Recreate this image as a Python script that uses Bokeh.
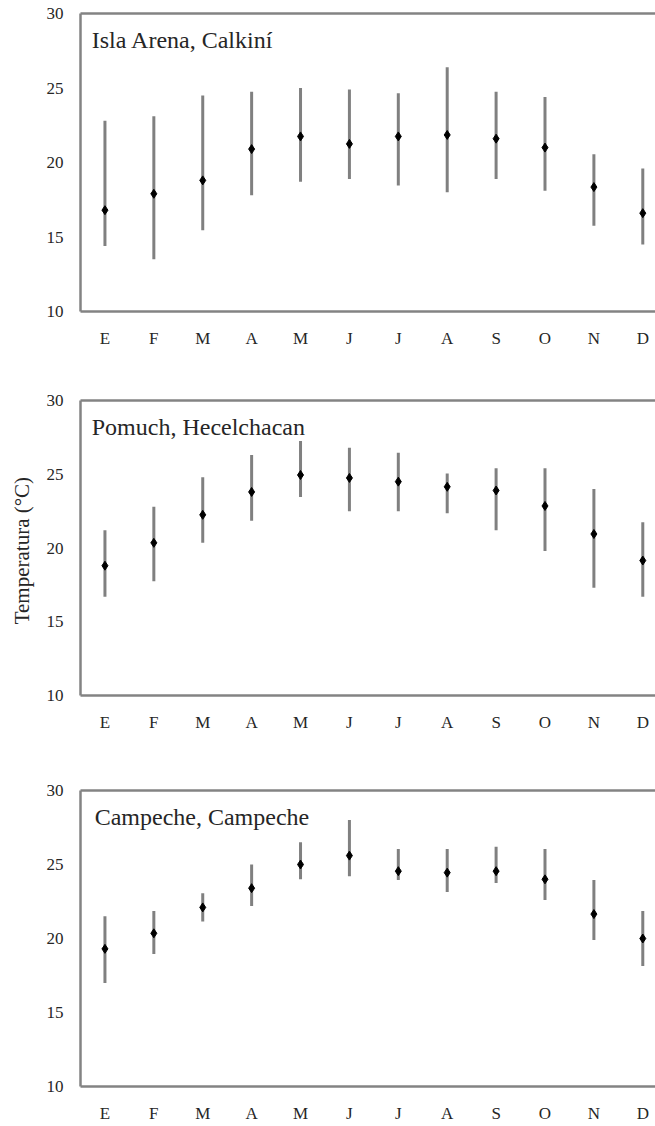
from bokeh.plotting import figure
from bokeh.models import Range1d, FixedTicker, Label, LinearAxis
from bokeh.layouts import column
from bokeh.embed import file_html
from bokeh.resources import INLINE

# Monthly temperature (°C): mean with minimum and maximum
months = ["E", "F", "M", "A", "M", "J", "J", "A", "S", "O", "N", "D"]
y_ticks = [10, 15, 20, 25, 30]

isla_mean = [16.8, 17.9, 18.8, 20.9, 21.75, 21.25, 21.75, 21.85, 21.6, 21.0, 18.35, 16.6]
isla_max = [22.8, 23.1, 24.5, 24.75, 25.0, 24.9, 24.65, 26.4, 24.75, 24.4, 20.55, 19.6]
isla_min = [14.4, 13.5, 15.45, 17.8, 18.7, 18.9, 18.45, 18.0, 18.9, 18.1, 15.75, 14.5]

pomuch_mean = [18.8, 20.35, 22.25, 23.8, 24.95, 24.75, 24.5, 24.15, 23.9, 22.85, 20.95, 19.15]
pomuch_max = [21.2, 22.8, 24.8, 26.3, 27.25, 26.8, 26.45, 25.05, 25.4, 25.4, 24.0, 21.75]
pomuch_min = [16.7, 17.75, 20.35, 21.85, 23.45, 22.5, 22.5, 22.35, 21.2, 19.8, 17.3, 16.7]

campeche_mean = [19.3, 20.35, 22.1, 23.4, 25.0, 25.6, 24.55, 24.45, 24.55, 24.0, 21.65, 20.0]
campeche_max = [21.5, 21.85, 23.05, 25.0, 26.5, 28.0, 26.05, 26.05, 26.2, 26.05, 23.95, 21.85]
campeche_min = [17.0, 18.95, 21.15, 22.2, 24.0, 24.2, 23.95, 23.15, 23.75, 22.6, 19.9, 18.15]

SERIF = "'Liberation Serif', 'Times New Roman', serif"
FRAME = "#838383"
BAR = "#808080"
TEXT = "#262626"


def panel(name, mean, lo, hi, top, frame_h, bottom, title_x=-0.27, ylabel=None):
    xs = list(range(len(months)))
    p = figure(
        width=655, height=top + frame_h + bottom,
        x_range=Range1d(-0.5, 11.26), y_range=Range1d(10, 30),
        output_backend="svg", toolbar_location=None,
        min_border_left=80, min_border_right=0,
        min_border_top=top, min_border_bottom=bottom,
        background_fill_color="white", border_fill_color="white",
        outline_line_color=None,
    )
    p.xgrid.visible = False
    p.ygrid.visible = False

    # axes: no tick marks, serif labels, gray frame lines
    for ax in (p.xaxis[0], p.yaxis[0]):
        ax.axis_line_color = FRAME
        ax.axis_line_width = 2.5
        ax.major_tick_line_color = None
        ax.minor_tick_line_color = None
        ax.major_tick_out = 0
        ax.major_tick_in = 0
        ax.major_label_text_font = SERIF
        ax.major_label_text_font_size = "17px"
        ax.major_label_text_color = TEXT
    p.xaxis.ticker = FixedTicker(ticks=xs)
    p.xaxis.major_label_overrides = {i: m for i, m in enumerate(months)}
    p.xaxis.major_label_standoff = 17
    p.yaxis.ticker = FixedTicker(ticks=y_ticks)
    p.yaxis.major_label_standoff = 17

    if ylabel:
        p.yaxis.axis_label = ylabel
        p.yaxis.axis_label_text_font = SERIF
        p.yaxis.axis_label_text_font_style = "normal"
        p.yaxis.axis_label_text_font_size = "21px"
        p.yaxis.axis_label_text_color = TEXT
        p.yaxis.axis_label_standoff = 10

    # top border line of the frame
    top_ax = LinearAxis(ticker=FixedTicker(ticks=[]))
    top_ax.axis_line_color = FRAME
    top_ax.axis_line_width = 2.5
    top_ax.major_tick_line_color = None
    top_ax.minor_tick_line_color = None
    top_ax.major_label_text_font_size = "0px"
    top_ax.major_tick_out = 0
    top_ax.major_tick_in = 0
    top_ax.major_label_standoff = 0
    p.add_layout(top_ax, "above")

    p.segment(x0=xs, y0=lo, x1=xs, y1=hi, line_color=BAR, line_width=3)
    p.scatter(x=xs, y=mean, marker="diamond", size=9,
              fill_color="black", line_color="black")

    p.add_layout(Label(x=title_x, y=28.2, text=name, text_font=SERIF,
                       text_font_size="24px", text_color=TEXT,
                       text_baseline="alphabetic"))
    return p


p1 = panel("Isla Arena, Calkiní", isla_mean, isla_min, isla_max, 13, 298, 45)
p2 = panel("Pomuch, Hecelchacan", pomuch_mean, pomuch_min, pomuch_max, 44, 295, 45,
           ylabel="Temperatura  (°C)")
p3 = panel("Campeche, Campeche", campeche_mean, campeche_min, campeche_max, 50, 297, 38,
           title_x=-0.21)

layout = column(p1, p2, p3, spacing=0)
open("out.html", "w").write(file_html(layout, INLINE))
